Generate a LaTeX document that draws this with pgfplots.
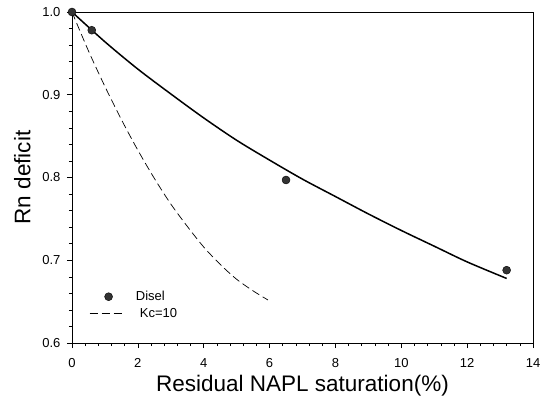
\documentclass[border=0pt]{standalone}
\usepackage{pgfplots}
\pgfplotsset{compat=1.18}
\usepackage{fontspec}
\setmainfont{Liberation Sans}

\definecolor{dotgray}{HTML}{333333}

\pgfplotsset{
  dotlegend/.style={legend image code/.code={\draw[##1] plot coordinates {(19pt,0pt)};\path (0pt,0pt) (44pt,0pt);}},
  dashlegend/.style={legend image code/.code={\draw[##1] (0pt,0pt) -- (34pt,0pt);\path (44pt,0pt);}},
}

\begin{document}
\begin{tikzpicture}
\useasboundingbox (-72pt,-59pt) rectangle (474pt,343pt);
\begin{axis}[
  scale only axis,
  width=461pt, height=331pt,
  xmin=0, xmax=14, ymin=0.6, ymax=1.0,
  xtick={0,2,...,14},
  ytick={0.6,0.7,0.8,0.9,1.0},
  minor x tick num=4,
  minor y tick num=4,
  xtick pos=bottom, ytick pos=left,
  tick align=outside,
  major tick length=5pt, minor tick length=3pt,
  every tick/.style={black, line width=0.6pt},
  axis line style={line width=0.8pt},
  /pgf/number format/assume math mode=true,
  tick label style={font=\fontsize{13}{15}\selectfont},
  xticklabel style={yshift=-7pt},
  yticklabel style={xshift=-3pt, /pgf/number format/fixed, /pgf/number format/precision=1, /pgf/number format/fixed zerofill},
  xlabel={Residual NAPL saturation(\%)},
  ylabel={Rn deficit},
  label style={font=\fontsize{22.5}{26}\selectfont},
  xlabel style={yshift=-1pt},
  ylabel style={yshift=5pt},
  legend style={at={(0.037,0.163)}, anchor=north west, draw=none, fill=none,
    inner sep=0pt, font=\fontsize{13}{15}\selectfont, row sep=2pt},
  legend cell align=left,
  clip=false,
]
% measured points
\addplot[only marks, mark=*, mark size=4pt, mark options={fill=dotgray, draw=black, line width=0.4pt}, dotlegend]
coordinates {(0,1.0) (0.6,0.978) (6.5,0.797) (13.2,0.688)};
\addlegendentry{Disel}
% Kc=10 model
\addplot[black, line width=0.7pt, dash pattern=on 8pt off 4pt, smooth, dashlegend]
coordinates {
(0,1.0) (0.5,0.953) (1,0.910) (1.5,0.870) (2,0.833) (2.5,0.799) (3,0.768)
(3.5,0.741) (4,0.716) (4.5,0.695) (5,0.677) (5.5,0.663) (5.95,0.652)};
\addlegendentry{\hspace{4pt}Kc=10}
% fitted curve
\addplot[black, line width=1.5pt, smooth, forget plot]
coordinates {
(0,1.0) (1,0.964) (2,0.931) (3,0.901) (4,0.872) (5,0.845) (6,0.821)
(7,0.798) (8,0.777) (9,0.756) (10,0.736) (11,0.717) (12,0.698) (13.2,0.678)};
\end{axis}
\end{tikzpicture}
\end{document}
